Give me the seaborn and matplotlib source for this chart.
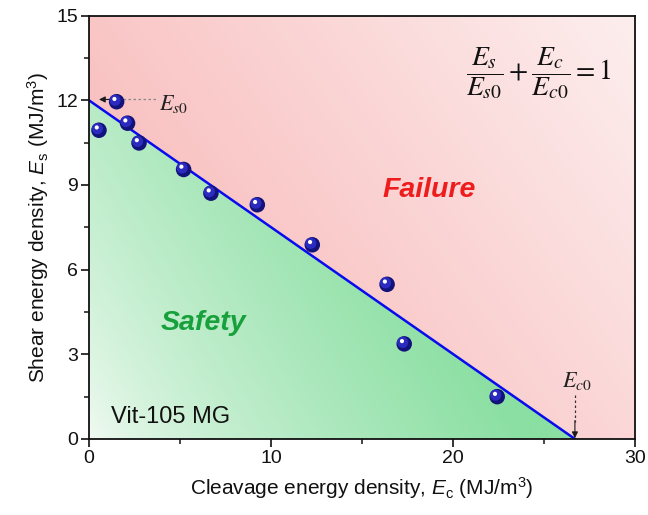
import numpy as np
import matplotlib
matplotlib.use('Agg')
import matplotlib.pyplot as plt
import matplotlib.transforms as mtransforms
from matplotlib.colors import to_rgb
import seaborn as sns

# ── data ──────────────────────────────────────────────────────────────────
Ec = [0.55, 1.52, 2.12, 2.75, 5.20, 6.70, 9.25, 12.27, 16.38, 17.32, 22.43]
Es = [10.94, 11.95, 11.19, 10.49, 9.55, 8.71, 8.30, 6.88, 5.48, 3.37, 1.50]
Es0 = 12.0
Ec0 = 26.7
fit_Ec = [0.0, Ec0]
fit_Es = [Es0, 0.0]
x_ticks = [0, 10, 20, 30]
y_ticks = [0, 3, 6, 9, 12, 15]

sns.set_theme(style='ticks')
plt.rcParams['font.family'] = ['Liberation Sans', 'DejaVu Sans']
plt.rcParams['mathtext.fontset'] = 'custom'
plt.rcParams['mathtext.rm'] = 'Liberation Sans'
plt.rcParams['mathtext.it'] = 'Liberation Sans:italic'
plt.rcParams['mathtext.bf'] = 'Liberation Sans:bold'

fig = plt.figure(figsize=(6.48, 5.15), dpi=100)
ax = fig.add_axes([0.1373, 0.1476, 0.8426, 0.822])
ax.set_xlim(0, 30)
ax.set_ylim(0, 15)

# ── gradient backgrounds (red failure / green safety) ─────────────────────
gx = np.linspace(0, 30, 600)
gy = np.linspace(0, 15, 300)
GX, GY = np.meshgrid(gx, gy)
t = GX / Ec0 + GY / Es0
g0, g1 = np.array(to_rgb('#f4fbf5')), np.array(to_rgb('#8adfa2'))
r0, r1 = np.array(to_rgb('#f9bcbc')), np.array(to_rgb('#fdeeee'))
safe = t <= 1
tg = np.clip(1.1 * GX / Ec0 + 0.45 * GY / Es0, 0, 1)[..., None] ** 0.7
tr = np.clip(0.8 * GX / 30 + 0.45 * GY / 15 - 0.25, 0, 1)[..., None]
img = np.where(safe[..., None], g0 + (g1 - g0) * tg, r0 + (r1 - r0) * tr)
ax.imshow(img, extent=[0, 30, 0, 15], origin='lower', aspect='auto',
          interpolation='bilinear', zorder=0)

# ── criterion line ────────────────────────────────────────────────────────
sns.lineplot(x=fit_Ec, y=fit_Es, ax=ax, color='#0a0aee', lw=1.8, zorder=3)

# ── spheres: base + shading + highlight ───────────────────────────────────
sns.scatterplot(x=Ec, y=Es, ax=ax, s=125, color='#12127a', edgecolor='none',
                zorder=4, legend=False)
shade = ax.transData + mtransforms.ScaledTranslation(-1.1 / 72, 1.1 / 72, fig.dpi_scale_trans)
ax.scatter(Ec, Es, s=65, color='#2b2bc0', edgecolor='none', zorder=5, transform=shade)
hi = ax.transData + mtransforms.ScaledTranslation(-1.6 / 72, 2.0 / 72, fig.dpi_scale_trans)
ax.scatter(Ec, Es, s=9, color='white', edgecolor='none', zorder=6, transform=hi)

# ── annotations ───────────────────────────────────────────────────────────
ax.plot([1.3, 3.75], [Es0 + 0.03, Es0 + 0.03], ls=(0, (2, 2)), color='#888888', lw=0.9, zorder=3.5)
ax.annotate('', xy=(0.55, Es0 + 0.03), xytext=(1.3, Es0 + 0.03),
            arrowprops=dict(arrowstyle='-|>', color='k', lw=0.8, mutation_scale=9,
                            shrinkA=0, shrinkB=0), zorder=3.5)
ax.text(3.85, 11.88, r'$E_{s0}$', fontsize=16, ha='left', va='center',
        math_fontfamily='stix', color='#222222')

ax.plot([Ec0, Ec0], [1.55, 0.6], ls=(0, (2, 2)), color='#333333', lw=0.9, zorder=3.5)
ax.annotate('', xy=(Ec0, 0.03), xytext=(Ec0, 0.65),
            arrowprops=dict(arrowstyle='-|>', color='k', lw=0.8, mutation_scale=9,
                            shrinkA=0, shrinkB=0), zorder=3.5)
ax.text(Ec0 + 0.1, 2.05, r'$E_{c0}$', fontsize=16, ha='center', va='center',
        math_fontfamily='stix', color='#222222')

ax.text(24.7, 12.95, r'$\dfrac{E_s}{E_{s0}}+\dfrac{E_c}{E_{c0}}=1$', fontsize=20,
        ha='center', va='center', math_fontfamily='stix', color='#111111')

ax.text(18.7, 8.83, 'Failure', fontsize=20.5, fontweight='bold', fontstyle='italic',
        color='#ee1c1c', ha='center', va='center')
ax.text(6.3, 4.12, 'Safety', fontsize=20.5, fontweight='bold', fontstyle='italic',
        color='#17a03c', ha='center', va='center')
ax.text(1.2, 0.79, 'Vit-105 MG', fontsize=17, color='#111111', ha='left', va='center')

# ── axes styling ──────────────────────────────────────────────────────────
ax.set_xticks(x_ticks)
ax.set_yticks(y_ticks)
ax.set_xticks([5, 15, 25], minor=True)
ax.set_yticks([1.5, 4.5, 7.5, 10.5, 13.5], minor=True)
ax.tick_params(which='major', direction='out', length=6, width=1.2, labelsize=14,
               colors='#111111', pad=2)
ax.tick_params(which='minor', direction='out', length=3.5, width=1.2)
for sp in ax.spines.values():
    sp.set_visible(True)
    sp.set_linewidth(1.3)
    sp.set_color('#111111')
    sp.set_zorder(10)

ax.set_xlabel(r'Cleavage energy density, $\mathit{E}_\mathrm{c}$ (MJ/m$^3$)', fontsize=15,
              color='#111111', labelpad=6)
ax.set_ylabel(r'Shear energy density, $\mathit{E}_\mathrm{s}$ (MJ/m$^3$)', fontsize=15,
              color='#111111', labelpad=4)

fig.savefig('out.png', dpi=100)
